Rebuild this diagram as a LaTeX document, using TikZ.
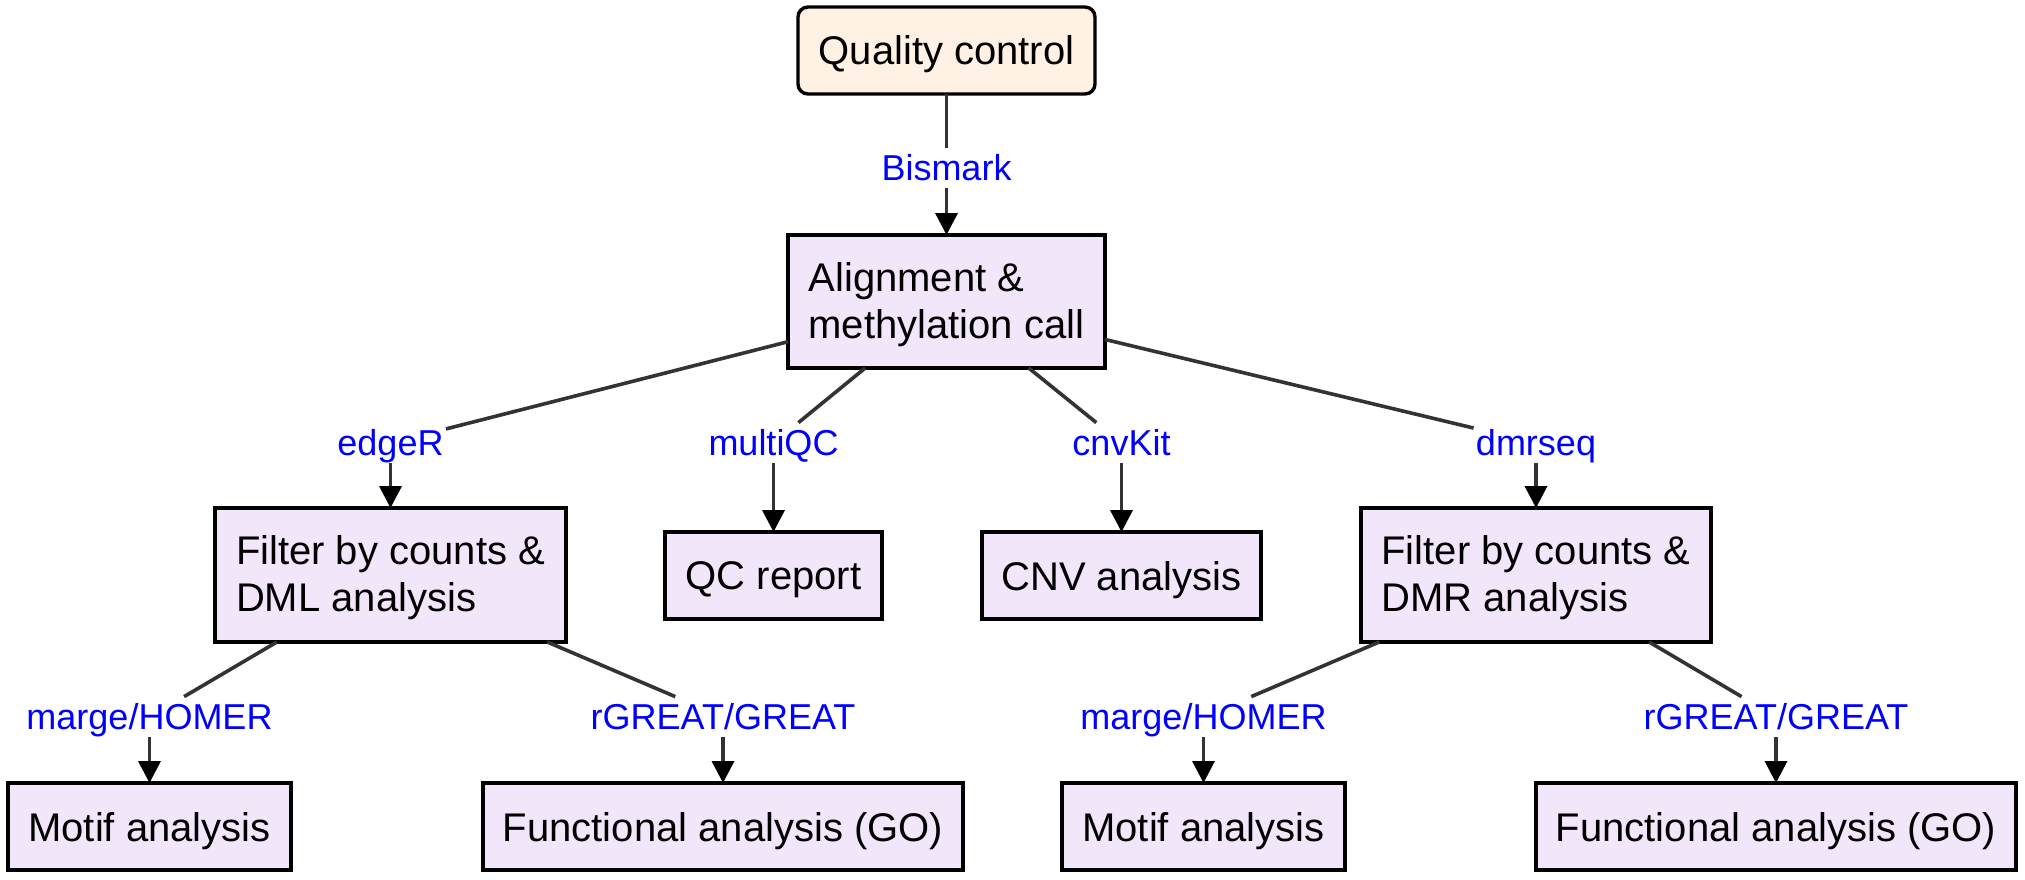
\documentclass[tikz,border=0pt]{standalone}
\usepackage{fontspec}
\setmainfont{Liberation Sans}
\usetikzlibrary{arrows.meta}
\definecolor{boxfill}{RGB}{242,230,250}
\definecolor{qcfill}{RGB}{255,241,228}
\definecolor{edgecol}{RGB}{51,51,51}
\definecolor{lblcol}{RGB}{0,0,255}
\newcommand{\topstrut}{\rule{0pt}{17.2pt}}
\begin{document}
\begin{tikzpicture}[x=0.5pt,y=-0.5pt,
  box/.style={draw=black, line width=2pt, fill=boxfill, inner sep=0pt, outer sep=0pt, align=left, font=\fontsize{20}{23.5}\selectfont},
  oneline/.style={text depth=0pt},
  lbl/.style={text=lblcol, inner sep=1pt, font=\fontsize{18}{21}\selectfont, text height=15.3pt, text depth=2.7pt},
  link/.style={draw=edgecol, line width=1.8pt},
  arr/.style={link, -{Triangle[length=11pt,width=11pt,black]}}
]
\useasboundingbox (0,0) rectangle (2025,879);
% nodes
\node[box, oneline, fill=qcfill, rounded corners=5pt, line width=1.7pt, minimum width=148.5pt, minimum height=43.5pt] (qc) at (946.5,50.5) {Quality control};
\node[lbl] (bis) at (946.5,168) {Bismark};
\node[box, minimum width=158.5pt, minimum height=66.5pt] (aln) at (946.5,301.5) {\topstrut Alignment \&\\methylation call};

\node[lbl] (edger) at (390.5,443) {edgeR};
\node[lbl] (mqc) at (773.5,443) {multiQC};
\node[lbl] (cnvk) at (1121.5,443) {cnvKit};
\node[lbl] (dmrs) at (1536,443) {dmrseq};

\node[box, minimum width=175.5pt, minimum height=67pt] (dml) at (390.5,575) {\topstrut Filter by counts \&\\DML analysis};
\node[box, oneline, minimum width=108.5pt, minimum height=43.5pt] (qcr) at (773.5,575.5) {QC report};
\node[box, oneline, minimum width=139.5pt, minimum height=43.5pt] (cnv) at (1121.5,575.5) {CNV analysis};
\node[box, minimum width=175pt, minimum height=67pt] (dmr) at (1536,575) {\topstrut Filter by counts \&\\DMR analysis};

\node[lbl] (hom1) at (149.5,717) {marge/HOMER};
\node[lbl] (grt1) at (723,717) {rGREAT/GREAT};
\node[lbl] (hom2) at (1203.5,717) {marge/HOMER};
\node[lbl] (grt2) at (1776,717) {rGREAT/GREAT};

\node[box, oneline, minimum width=141.5pt, minimum height=43.5pt] (mot1) at (149.5,826.5) {Motif analysis};
\node[box, oneline, minimum width=240pt, minimum height=43.5pt] (fun1) at (723,826.5) {Functional analysis (GO)};
\node[box, oneline, minimum width=141.5pt, minimum height=43.5pt] (mot2) at (1203.5,826.5) {Motif analysis};
\node[box, oneline, minimum width=240pt, minimum height=43.5pt] (fun2) at (1776,826.5) {Functional analysis (GO)};

% connectors
\draw[link] (qc) -- (bis);
\draw[arr] (bis) -- (aln);

\draw[link] (aln) -- (edger);
\draw[arr] (edger) -- (dml);
\draw[link] (aln) -- (mqc);
\draw[arr] (mqc) -- (qcr);
\draw[link] (aln) -- (cnvk);
\draw[arr] (cnvk) -- (cnv);
\draw[link] (aln) -- (dmrs);
\draw[arr] (dmrs) -- (dmr);

\draw[link] (dml) -- (hom1);
\draw[arr] (hom1) -- (mot1);
\draw[link] (dml) -- (grt1);
\draw[arr] (grt1) -- (fun1);
\draw[link] (dmr) -- (hom2);
\draw[arr] (hom2) -- (mot2);
\draw[link] (dmr) -- (grt2);
\draw[arr] (grt2) -- (fun2);
\end{tikzpicture}
\end{document}
